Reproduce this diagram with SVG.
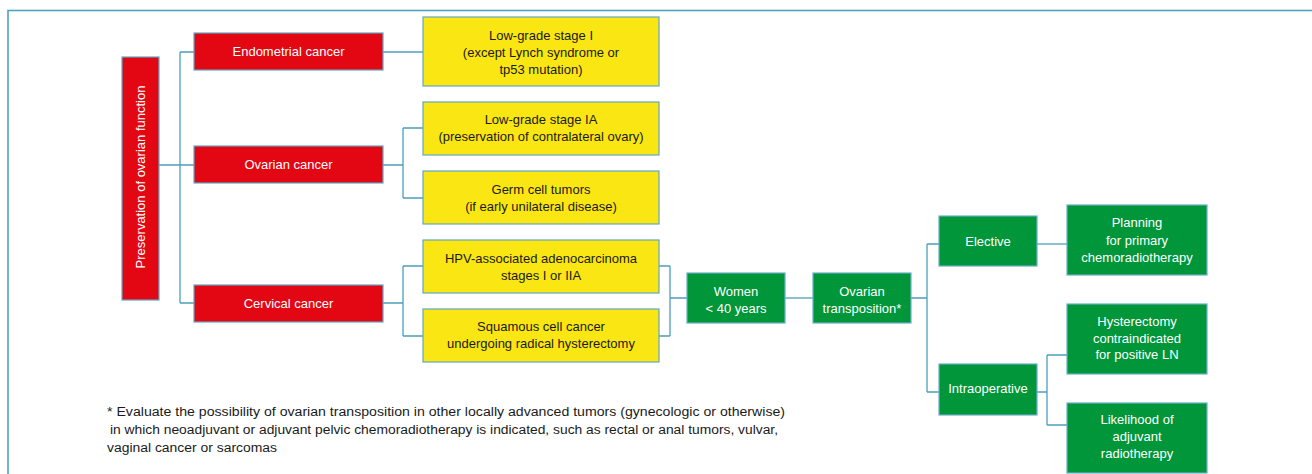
<svg xmlns="http://www.w3.org/2000/svg" width="1312" height="474" viewBox="0 0 1312 474">
<style>
text{font-family:"Liberation Sans",Arial,sans-serif;font-size:13px;text-anchor:middle}
.red{fill:#E30613;stroke:#5FA8C4;stroke-width:1.2}
.yel{fill:#FAE612;stroke:#5FA8C4;stroke-width:1.2}
.grn{fill:#009639;stroke:#6AAFC8;stroke-width:1.2}
.w{fill:#FFFFFF}
.d{fill:#1A1A1A}
.conn{fill:none;stroke:#4C9FBD;stroke-width:1.3}
.note{font-size:12.5px;text-anchor:start;fill:#1A1A1A}
</style>
<rect width="1312" height="474" fill="#FFFFFF"/>
<rect x="8" y="10.5" width="1320" height="480" fill="none" stroke="#4FA2BF" stroke-width="1.6"/>
<g id="connectors" class="conn">
<path d="M159 165H194M180 52V303M180 52H194M180 303H194"/>
<path d="M383 52H423"/>
<path d="M383 165H403M403 128V198M403 128H423M403 198H423"/>
<path d="M383 303H403M403 266V336M403 266H423M403 336H423"/>
<path d="M659 266H670M659 336H670M670 266V336M670 298H687"/>
<path d="M785 298H813"/>
<path d="M911 298H927M927 244V392M927 244H939M927 392H939"/>
<path d="M1037 244H1067"/>
<path d="M1037 392H1047M1047 355V425M1047 355H1067M1047 425H1067"/>
</g>
<g id="root"><rect class="red" x="122" y="57" width="37" height="243"/><text class="w" transform="translate(145 177) rotate(-90)" font-size="13.8">Preservation of ovarian function</text></g>
<g id="endometrial"><rect class="red" x="194" y="33" width="189" height="37"/><text class="w" x="288.5" y="56">Endometrial cancer</text></g>
<g id="ovarian"><rect class="red" x="194" y="146" width="189" height="37"/><text class="w" x="288.5" y="169">Ovarian cancer</text></g>
<g id="cervical"><rect class="red" x="194" y="285" width="189" height="37"/><text class="w" x="288.5" y="308">Cervical cancer</text></g>
<g id="endo-lowgrade"><rect class="yel" x="423" y="17" width="236" height="69"/><text class="d" x="541" y="40">Low-grade stage I</text><text class="d" x="541" y="57">(except Lynch syndrome or</text><text class="d" x="541" y="74">tp53 mutation)</text></g>
<g id="ov-lowgrade"><rect class="yel" x="423" y="102" width="236" height="53"/><text class="d" x="541" y="124">Low-grade stage IA</text><text class="d" x="541" y="141">(preservation of contralateral ovary)</text></g>
<g id="ov-germ"><rect class="yel" x="423" y="171" width="236" height="53"/><text class="d" x="541" y="194">Germ cell tumors</text><text class="d" x="541" y="211">(if early unilateral disease)</text></g>
<g id="cx-hpv"><rect class="yel" x="423" y="240" width="236" height="53"/><text class="d" x="541" y="263">HPV-associated adenocarcinoma</text><text class="d" x="541" y="280">stages I or IIA</text></g>
<g id="cx-squamous"><rect class="yel" x="423" y="309" width="236" height="53"/><text class="d" x="541" y="331">Squamous cell cancer</text><text class="d" x="541" y="348">undergoing radical hysterectomy</text></g>
<g id="women"><rect class="grn" x="687" y="273" width="98" height="50"/><text class="w" x="736" y="296">Women</text><text class="w" x="736" y="313">&lt; 40 years</text></g>
<g id="transposition"><rect class="grn" x="813" y="273" width="98" height="50"/><text class="w" x="862" y="296">Ovarian</text><text class="w" x="862" y="313">transposition*</text></g>
<g id="elective"><rect class="grn" x="939" y="216" width="98" height="50"/><text class="w" x="988" y="246">Elective</text></g>
<g id="intraoperative"><rect class="grn" x="939" y="364" width="98" height="51"/><text class="w" x="988" y="393">Intraoperative</text></g>
<g id="planning"><rect class="grn" x="1067" y="205" width="140" height="70"/><text class="w" x="1137" y="227">Planning</text><text class="w" x="1137" y="245">for primary</text><text class="w" x="1137" y="262">chemoradiotherapy</text></g>
<g id="hysterectomy"><rect class="grn" x="1067" y="304" width="140" height="70"/><text class="w" x="1137" y="326">Hysterectomy</text><text class="w" x="1137" y="343">contraindicated</text><text class="w" x="1137" y="359">for positive LN</text></g>
<g id="likelihood"><rect class="grn" x="1067" y="403" width="140" height="70"/><text class="w" x="1137" y="424">Likelihood of</text><text class="w" x="1137" y="441">adjuvant</text><text class="w" x="1137" y="458">radiotherapy</text></g>
<g id="footnote">
<text class="note" x="107" y="416" textLength="678" lengthAdjust="spacingAndGlyphs">* Evaluate the possibility of ovarian transposition in other locally advanced tumors (gynecologic or otherwise)</text>
<text class="note" x="110" y="434" textLength="668" lengthAdjust="spacingAndGlyphs">in which neoadjuvant or adjuvant pelvic chemoradiotherapy is indicated, such as rectal or anal tumors, vulvar,</text>
<text class="note" x="107" y="452" textLength="170" lengthAdjust="spacingAndGlyphs">vaginal cancer or sarcomas</text>
</g>
</svg>
